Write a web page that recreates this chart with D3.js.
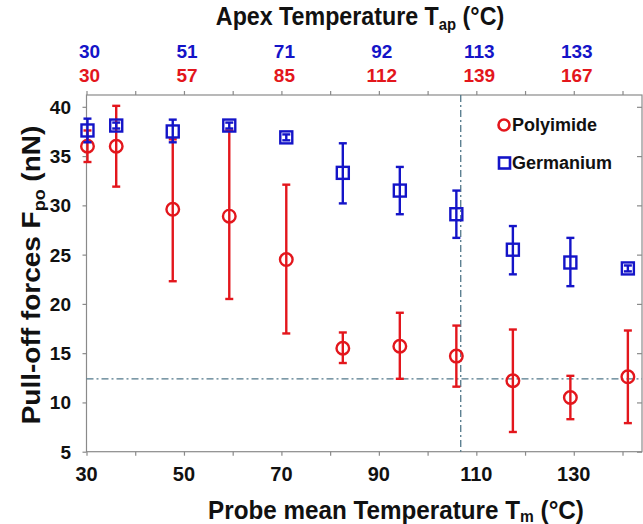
<!DOCTYPE html>
<html><head><meta charset="utf-8">
<script src="https://cdn.jsdelivr.net/npm/d3@7"></script>
<style>body{margin:0;background:#fff}svg{display:block;font-family:"Liberation Sans",Arial,sans-serif;font-weight:bold}</style>
</head><body><svg id="c" width="643" height="524"></svg>
<script>
const tempM = [30.2, 36.1, 47.7, 59.3, 71.0, 82.6, 94.3, 105.9, 117.5, 129.3, 141.1];
const polyVal = [36.0, 36.0, 29.6, 28.9, 24.5, 15.5, 15.7, 14.7, 12.2, 10.5, 12.6];
const polyLo  = [34.4, 31.9, 22.3, 20.5, 17.0, 14.0, 12.4, 11.6, 7.0, 8.3, 7.9];
const polyHi  = [37.6, 40.1, 36.7, 37.6, 32.1, 17.1, 19.1, 17.8, 17.4, 12.7, 17.3];
const geVal = [37.6, 38.1, 37.5, 38.1, 36.9, 33.3, 31.5, 29.1, 25.5, 24.2, 23.6];
const geLo  = [36.4, 37.8, 36.4, 37.8, 36.6, 30.2, 29.1, 26.7, 23.0, 21.8, 23.3];
const geHi  = [38.8, 38.4, 38.7, 38.4, 37.2, 36.3, 33.9, 31.5, 27.9, 26.7, 23.9];
const bottomTicks = [30, 50, 70, 90, 110, 130];
const topBlue = ["30", "51", "71", "92", "113", "133"];
const topRed  = ["30", "57", "85", "112", "139", "167"];
const yTicks = [5, 10, 15, 20, 25, 30, 35, 40];
const refX = 106.8, refY = 12.4;

const RED = "#e3161c", BLUE = "#1414c8", AX = "#8a8a8a", REF = "#52788a";
const svg = d3.select("#c");
const L = 86.5, R = 642, T = 95, B = 451.7;
const x = d3.scaleLinear().domain([30, 144]).range([L, R]);
const y = d3.scaleLinear().domain([5, 41.2]).range([B, T]);

// frame
svg.append("rect").attr("x", L).attr("y", T).attr("width", R - L).attr("height", B - T)
  .attr("fill", "none").attr("stroke", AX).attr("stroke-width", 1.2);

const minorX = d3.range(30, 145, 10);
// bottom axis
const gb = svg.append("g").attr("transform", `translate(0,${B})`)
  .call(d3.axisBottom(x).tickValues(minorX).tickSize(4).tickFormat(""));
gb.select(".domain").remove();
gb.selectAll("line").attr("stroke", AX).attr("stroke-width", 1.2);
svg.append("g").selectAll("text").data(bottomTicks).join("text")
  .attr("x", d => x(d)).attr("y", 481).attr("text-anchor", "middle")
  .attr("font-size", 20).attr("fill", "#111").text(d => d);

// top axis
const gt = svg.append("g").attr("transform", `translate(0,${T})`)
  .call(d3.axisTop(x).tickValues(minorX).tickSize(4).tickFormat(""));
gt.select(".domain").remove();
gt.selectAll("line").attr("stroke", AX).attr("stroke-width", 1.2);
svg.append("g").selectAll("text").data(bottomTicks).join("text")
  .attr("x", d => x(d) + 3).attr("y", 58).attr("text-anchor", "middle")
  .attr("font-size", 19).attr("fill", BLUE).text((d, i) => topBlue[i]);
svg.append("g").selectAll("text").data(bottomTicks).join("text")
  .attr("x", d => x(d) + 3).attr("y", 82).attr("text-anchor", "middle")
  .attr("font-size", 19).attr("fill", RED).text((d, i) => topRed[i]);

// left axis
const gl = svg.append("g").attr("transform", `translate(${L},0)`)
  .call(d3.axisLeft(y).tickValues(yTicks).tickSize(4).tickFormat(""));
gl.select(".domain").remove();
gl.selectAll("line").attr("stroke", AX).attr("stroke-width", 1.2);
svg.append("g").selectAll("text").data(yTicks).join("text")
  .attr("x", 71).attr("y", d => y(d) + 7).attr("text-anchor", "end")
  .attr("font-size", 19).attr("fill", "#111").text(d => d);
// right axis
const gr = svg.append("g").attr("transform", `translate(${R},0)`)
  .call(d3.axisLeft(y).tickValues(yTicks).tickSize(-4).tickFormat(""));
gr.select(".domain").remove();
gr.selectAll("line").attr("x2", -5).attr("stroke", AX).attr("stroke-width", 1.2);

// reference lines
svg.append("line").attr("x1", x(refX)).attr("x2", x(refX)).attr("y1", T).attr("y2", B)
  .attr("stroke", REF).attr("stroke-width", 1.3).attr("stroke-dasharray", "7,3,2,3");
svg.append("line").attr("x1", L).attr("x2", R).attr("y1", y(refY)).attr("y2", y(refY))
  .attr("stroke", REF).attr("stroke-width", 1.3).attr("stroke-dasharray", "7,3,2,3");

function errbars(vals, lo, hi, color) {
  const g = svg.append("g").attr("stroke", color).attr("stroke-width", 2.4).attr("fill", "none");
  tempM.forEach((t, i) => {
    const cx = x(t);
    g.append("line").attr("x1", cx).attr("x2", cx).attr("y1", y(lo[i])).attr("y2", y(hi[i]));
    g.append("line").attr("x1", cx - 4).attr("x2", cx + 4).attr("y1", y(lo[i])).attr("y2", y(lo[i]));
    g.append("line").attr("x1", cx - 4).attr("x2", cx + 4).attr("y1", y(hi[i])).attr("y2", y(hi[i]));
  });
  return g;
}
// Polyimide
errbars(polyVal, polyLo, polyHi, RED).selectAll("circle.m").data(polyVal).join("circle")
  .attr("cx", (d, i) => x(tempM[i])).attr("cy", d => y(d)).attr("r", 6.3);
// Germanium
errbars(geVal, geLo, geHi, BLUE).selectAll("rect.m").data(geVal).join("rect")
  .attr("x", (d, i) => x(tempM[i]) - 6).attr("y", d => y(d) - 6)
  .attr("width", 12).attr("height", 12);

// legend
svg.append("circle").attr("cx", 504).attr("cy", 125).attr("r", 5.5)
  .attr("fill", "none").attr("stroke", RED).attr("stroke-width", 2.6);
svg.append("text").attr("x", 512).attr("y", 131).attr("font-size", 18).attr("fill", "#111").text("Polyimide");
svg.append("rect").attr("x", 499).attr("y", 157.5).attr("width", 11).attr("height", 11)
  .attr("fill", "none").attr("stroke", BLUE).attr("stroke-width", 2.6);
svg.append("text").attr("x", 512).attr("y", 169).attr("font-size", 18).attr("fill", "#111").text("Germanium");

// titles
const topTitle = svg.append("text").attr("transform", "translate(360,25) scale(0.93,1)")
  .attr("text-anchor", "middle").attr("font-size", 25).attr("fill", "#111");
topTitle.append("tspan").text("Apex Temperature T");
topTitle.append("tspan").attr("font-size", 16).attr("dy", 5).text("ap");
topTitle.append("tspan").attr("dy", -5).text(" (°C)");

const botTitle = svg.append("text").attr("transform", "translate(396,519) scale(0.97,1)")
  .attr("text-anchor", "middle").attr("font-size", 25).attr("fill", "#111");
botTitle.append("tspan").text("Probe mean Temperature T");
botTitle.append("tspan").attr("font-size", 16).attr("dy", 3).text("m");
botTitle.append("tspan").attr("dy", -3).text(" (°C)");

const yTitle = svg.append("text").attr("transform", "translate(40,275) rotate(-90) scale(1.12,1)").attr("text-anchor", "middle")
  .attr("font-size", 25).attr("fill", "#111");
yTitle.append("tspan").text("Pull-off forces F");
yTitle.append("tspan").attr("font-size", 16).attr("dy", 5).text("po");
yTitle.append("tspan").attr("dy", -5).text(" (nN)");
</script></body></html>
